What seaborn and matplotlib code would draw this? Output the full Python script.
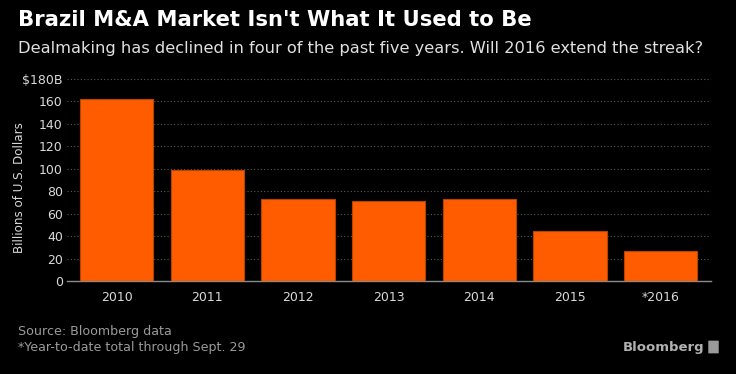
import matplotlib
matplotlib.use("Agg")
import matplotlib.pyplot as plt
import matplotlib.patches as mpatches
import seaborn as sns
import pandas as pd

years = ["2010", "2011", "2012", "2013", "2014", "2015", "*2016"]
values = [162.4, 99.3, 73.2, 71.4, 73.5, 44.2, 26.7]
yticks = [0, 20, 40, 60, 80, 100, 120, 140, 160, 180]
ytick_labels = ["0", "20", "40", "60", "80", "100", "120", "140", "160", "$180B"]

title = "Brazil M&A Market Isn't What It Used to Be"
subtitle = "Dealmaking has declined in four of the past five years. Will 2016 extend the streak?"
ylabel = "Billions of U.S. Dollars"
source = "Source: Bloomberg data"
note = "*Year-to-date total through Sept. 29"

sns.set_style("dark")
plt.rcParams['font.family'] = ['DejaVu Sans']

df = pd.DataFrame({"year": years, "value": values})

fig = plt.figure(figsize=(7.36, 3.74), dpi=100, facecolor="black")
ax = fig.add_axes([67/736, 93/374, (711-67)/736, (281-79)/374])
ax.set_facecolor("black")

sns.barplot(data=df, x="year", y="value", color="#ff5c00", saturation=1,
            width=0.81, edgecolor="#b84300", linewidth=0.8, ax=ax, zorder=3)

ax.set_xlim(-0.548, 6.555)
ax.set_ylim(0, 180)
ax.set_yticks(yticks)
ax.set_yticklabels(ytick_labels)
ax.grid(axis="y", color="#5a5a5a", linestyle=(0, (1, 2)), linewidth=0.8, zorder=0)
ax.grid(axis="x", visible=False)
for s in ["top", "right", "left"]:
    ax.spines[s].set_visible(False)
ax.spines["bottom"].set_color("#8a8a8a")
ax.spines["bottom"].set_linewidth(1)
ax.tick_params(axis="x", colors="#8a8a8a", length=4, width=1, labelcolor="#d9d9d9", labelsize=9, pad=3)
ax.tick_params(axis="y", length=0, labelcolor="#d9d9d9", labelsize=9, pad=3)
ax.set_xlabel("")
ax.set_ylabel("")
fig.text(20/736, 1 - 188/374, ylabel, color="#d9d9d9", fontsize=8.6, rotation=90,
         va="center", ha="center")

fig.text(18/736, 1 - 20/374, title, color="white", fontsize=15.2, fontweight="bold", va="center", ha="left")
fig.text(18/736, 1 - 48/374, subtitle, color="#e0e0e0", fontsize=11.7, va="center", ha="left")
fig.text(18/736, 1 - 332/374, source, color="#9a9a9a", fontsize=9.1, va="center", ha="left")
fig.text(18/736, 1 - 347/374, note, color="#9a9a9a", fontsize=9.1, va="center", ha="left")
fig.text(704/736, 1 - 347/374, "Bloomberg", color="#b0b0b0", fontsize=9.5, fontweight="bold",
         va="center", ha="right")
fig.patches.append(mpatches.FancyBboxPatch((709/736, 1 - 353/374), 9/736, 12/374,
                   boxstyle="round,pad=0.001", transform=fig.transFigure,
                   facecolor="#9a9a9a", edgecolor="none", figure=fig))

fig.savefig("out.png", dpi=100, facecolor="black")
